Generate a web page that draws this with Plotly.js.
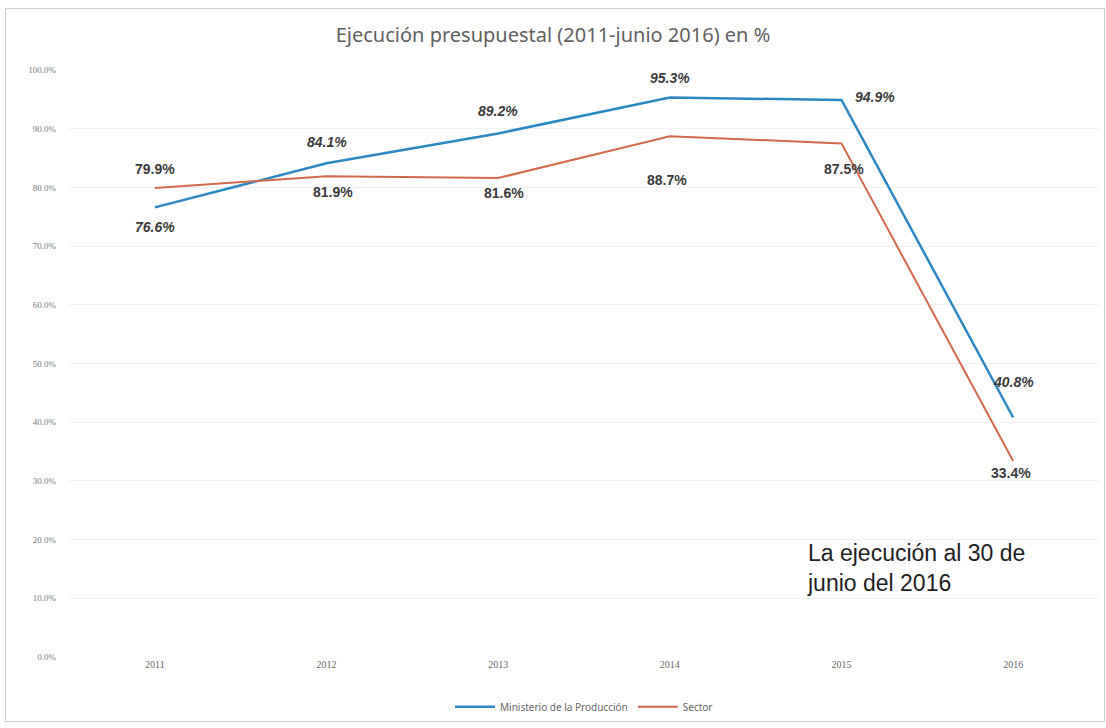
<!DOCTYPE html>
<html>
<head>
<meta charset="utf-8">
<script src="https://cdn.plot.ly/plotly-3.0.1.min.js"></script>
<style>
  html, body { margin: 0; padding: 0; background: #fff; }
  #frame { position: absolute; left: 5px; top: 8px; width: 1098px; height: 712px; border: 1px solid #d0d0d0; pointer-events: none; }
  #chart { width: 1106px; height: 728px; }
</style>
</head>
<body>
<div id="chart"></div>
<div id="frame"></div>
<script>
const years = ['2011', '2012', '2013', '2014', '2015', '2016'];
const ministerio = [76.6, 84.1, 89.2, 95.3, 94.9, 40.8];
const sector = [79.9, 81.9, 81.6, 88.7, 87.5, 33.4];
const seriesNames = ['Ministerio de la Producción', 'Sector'];
const yTicks = [0, 10, 20, 30, 40, 50, 60, 70, 80, 90, 100];
const note = 'La ejecución al 30 de<br>junio del 2016';
const title = 'Ejecución presupuestal (2011-junio 2016) en %';

// label offsets (pixels) relative to each point
const minShiftX = [0, 0, 0, 0, 33, 0];
const minShiftY = [-20, 21, 22, 20, 3, 36];
const secShiftX = [0, 6, 6, -3, 2, -2];
const secShiftY = [19, -16, -15, -44, -26, -12];

const fmt = v => v.toFixed(1) + '%';
const blue = '#2b88c2';
const orange = '#d3694b';

const traces = [
  {
    x: years, y: ministerio, name: seriesNames[0], type: 'scatter', mode: 'lines',
    line: { color: blue, width: 2.5 }, hoverinfo: 'skip'
  },
  {
    x: years, y: sector, name: seriesNames[1], type: 'scatter', mode: 'lines',
    line: { color: orange, width: 2 }, hoverinfo: 'skip'
  }
];

const labelFont = { family: 'Liberation Sans, Arial, sans-serif', size: 14, color: '#3a3a3a', weight: 'bold' };
const annotations = [];
years.forEach((yr, i) => {
  annotations.push({
    x: i, y: ministerio[i], xref: 'x', yref: 'y', text: fmt(ministerio[i]), showarrow: false,
    xshift: minShiftX[i], yshift: minShiftY[i],
    font: Object.assign({}, labelFont, { style: 'italic' })
  });
  annotations.push({
    x: i, y: sector[i], xref: 'x', yref: 'y', text: fmt(sector[i]), showarrow: false,
    xshift: secShiftX[i], yshift: secShiftY[i], font: labelFont
  });
});
annotations.push({
  text: note, xref: 'x', yref: 'y', x: 3.79, y: 10, xanchor: 'left', yanchor: 'bottom', align: 'left',
  showarrow: false,
  font: { family: 'Liberation Sans, Arial, sans-serif', size: 23, color: '#1e1e1e' }
});

const layout = {
  width: 1106, height: 728,
  margin: { l: 69, r: 7, t: 70, b: 68 },
  paper_bgcolor: '#ffffff', plot_bgcolor: '#ffffff',
  title: {
    text: title, x: 0.5, xanchor: 'center', y: 0.952, yanchor: 'middle',
    font: { family: 'Noto Sans, Open Sans, sans-serif', size: 20, color: '#5f5f5f' }
  },
  xaxis: {
    type: 'category', showgrid: false, zeroline: false, showline: false,
    ticks: '', tickfont: { family: 'Liberation Serif, serif', size: 10, color: '#666' },
    range: [-0.5, 5.5]
  },
  yaxis: {
    range: [0, 100], tickvals: yTicks, ticktext: yTicks.map(v => v.toFixed(1) + '%'),
    showgrid: true, gridcolor: '#f0f0f0', zeroline: false, showline: false,
    tickfont: { family: 'Liberation Serif, serif', size: 9, color: '#777' },
    ticklabelstandoff: 12
  },
  showlegend: true,
  legend: {
    orientation: 'h', x: 0.5, xanchor: 'center', y: -0.06, yanchor: 'top',
    font: { family: 'Noto Sans, sans-serif', size: 10, color: '#666' },
    itemwidth: 40
  },
  annotations: annotations
};

Plotly.newPlot('chart', traces, layout, { displayModeBar: false, staticPlot: true });
</script>
</body>
</html>
